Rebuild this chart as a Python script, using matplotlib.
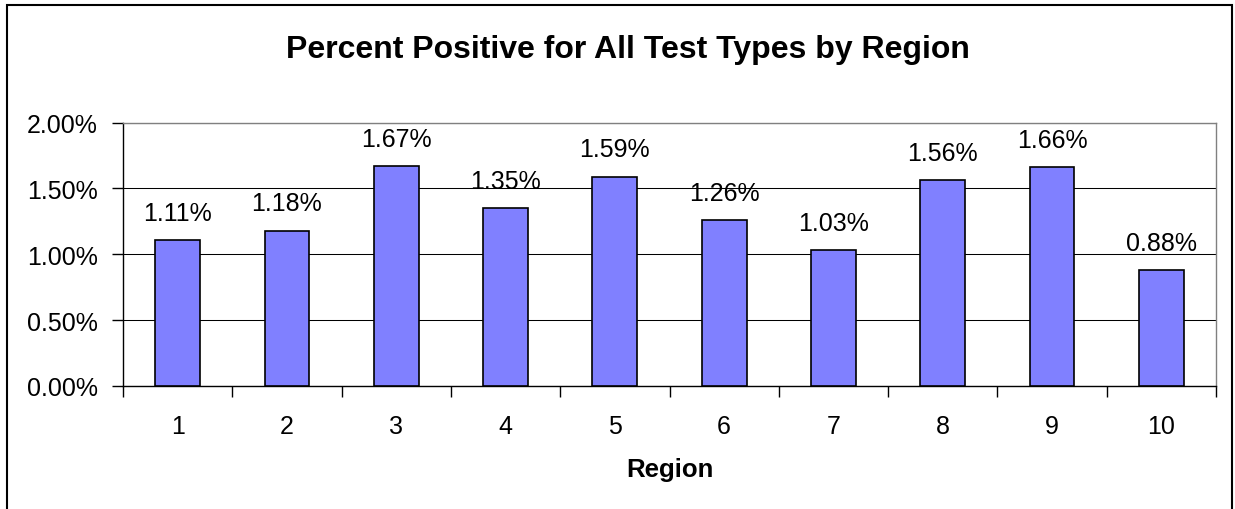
import matplotlib.pyplot as plt
from matplotlib.patches import Rectangle
from matplotlib.ticker import FuncFormatter, FixedLocator

regions = ['1', '2', '3', '4', '5', '6', '7', '8', '9', '10']
percent_positive = [1.11, 1.18, 1.67, 1.35, 1.59, 1.26, 1.03, 1.56, 1.66, 0.88]

plt.rcParams['font.family'] = ['Liberation Sans', 'DejaVu Sans']

W, H = 1235, 510
fig = plt.figure(figsize=(W / 100, H / 100), dpi=100)
ax = fig.add_axes([123 / W, 1 - 387 / H, (1216 - 123) / W, (387 - 123.5) / H])

x = list(range(1, len(regions) + 1))
bars = ax.bar(x, percent_positive, width=0.41, color='#8080FF',
              edgecolor='black', linewidth=1.2, zorder=3)

# data labels above each bar
for xi, v in zip(x, percent_positive):
    ax.annotate(f'{v:.2f}%', (xi, v), xytext=(0, 14.5), textcoords='offset points',
                ha='center', va='baseline', fontsize=18)

ax.set_xlim(0.5, len(regions) + 0.5)
ax.set_ylim(0, 2.0)
ax.set_yticks([0, 0.5, 1.0, 1.5, 2.0])
ax.yaxis.set_major_formatter(FuncFormatter(lambda v, p: f'{v:.2f}%'))
ax.grid(axis='y', color='black', linewidth=0.75, zorder=0)

# category labels in the middle, tick marks on the boundaries
ax.set_xticks(x)
ax.set_xticklabels(regions)
ax.xaxis.set_minor_locator(FixedLocator([i + 0.5 for i in range(len(regions) + 1)]))
ax.tick_params(axis='x', which='major', length=0, pad=20, labelsize=18)
ax.tick_params(axis='x', which='minor', length=8, width=1, color='black')
ax.tick_params(axis='y', length=8, width=1, pad=10, labelsize=18)

for side in ['top', 'right']:
    ax.spines[side].set_color('#808080')
    ax.spines[side].set_linewidth(1)
for side in ['left', 'bottom']:
    ax.spines[side].set_color('black')
    ax.spines[side].set_linewidth(1)

ax.set_xlabel('Region', fontsize=18.6, fontweight='bold', labelpad=14)
fig.text(0.5 + 10 / W, 1 - 50 / H, 'Percent Positive for All Test Types by Region',
         ha='center', va='center', fontsize=23, fontweight='bold')

# outer chart border
fig.patches.append(Rectangle((7 / W, -0.05), (1232 - 7) / W, 1 - 6 / H + 0.05,
                             transform=fig.transFigure, fill=False,
                             edgecolor='black', linewidth=1.5))

fig.savefig('out.png', dpi=100)
